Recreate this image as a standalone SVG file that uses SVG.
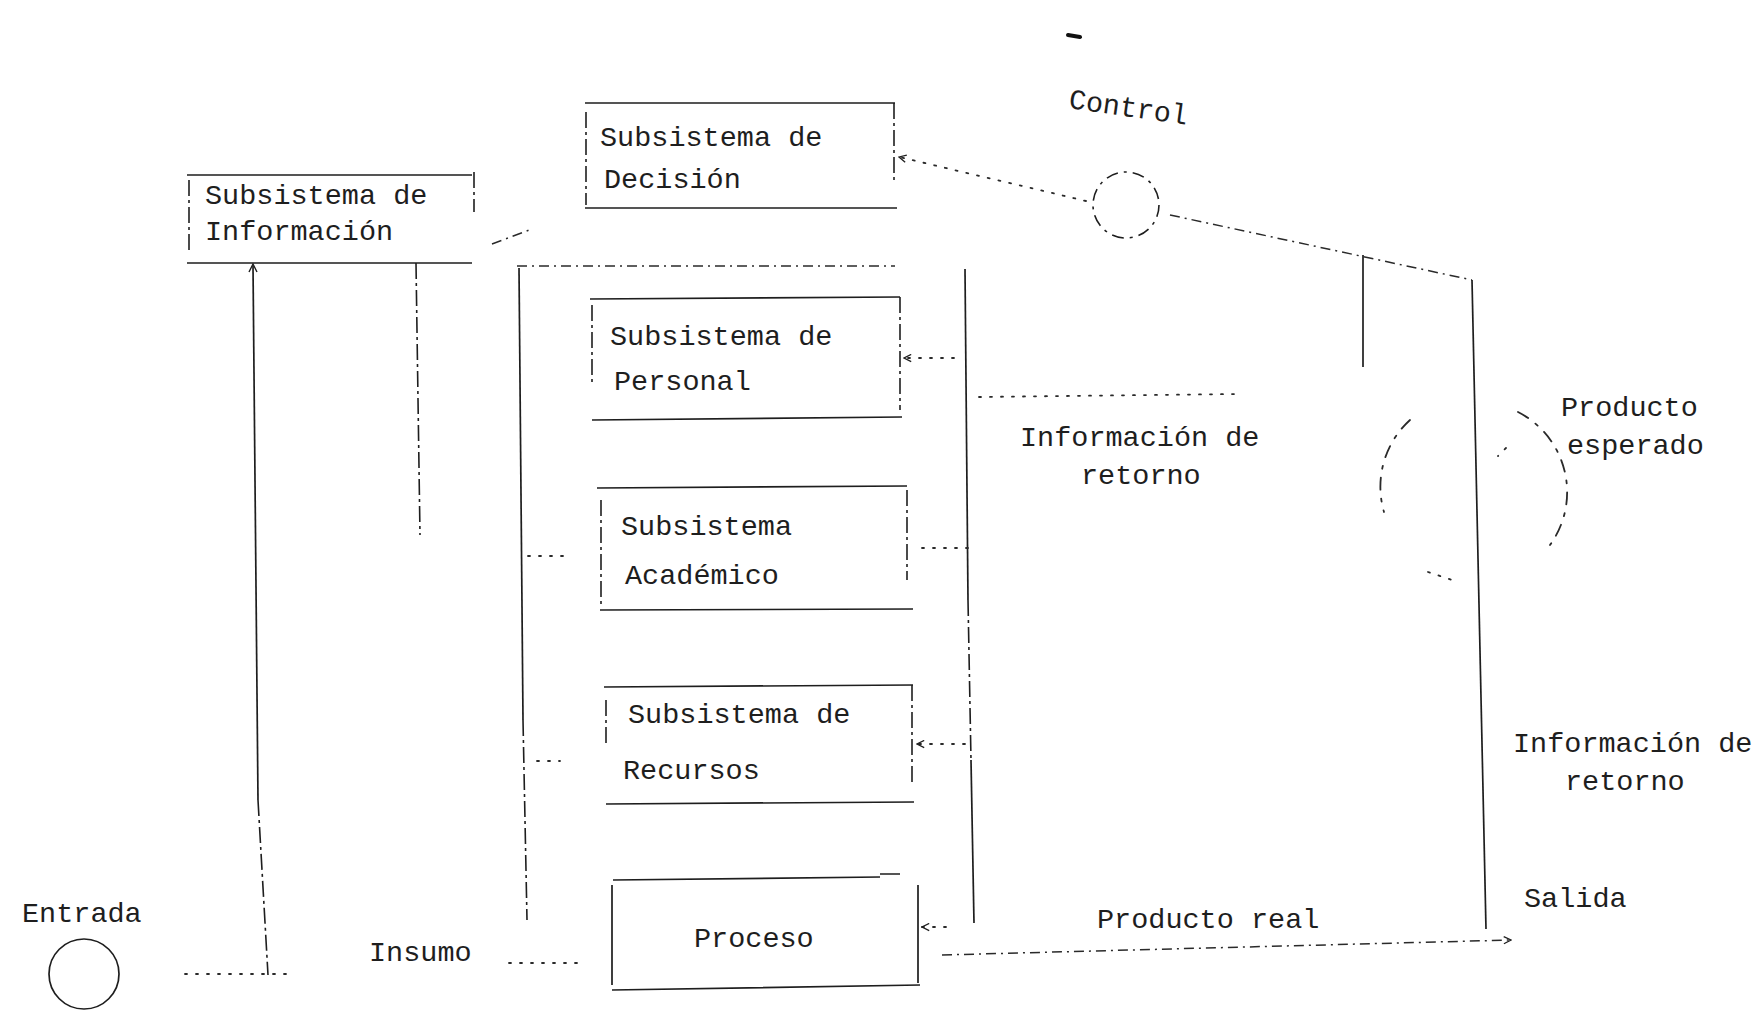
<svg xmlns="http://www.w3.org/2000/svg" width="1755" height="1021" viewBox="0 0 1755 1021">
<defs>
<style>
.t{font-family:"Liberation Mono","DejaVu Sans Mono",monospace;font-size:28.5px;fill:#1e1e1e}
.s{stroke:#1e1e1e;stroke-width:1.7;fill:none}
.d{stroke:#1e1e1e;stroke-width:1.6;fill:none;stroke-dasharray:16 4 3 4}
.o{stroke:#2a2a2a;stroke-width:1.8;fill:none;stroke-dasharray:2 9;stroke-linecap:round}
.k{stroke:#2a2a2a;stroke-width:1.5;fill:none;stroke-dasharray:10 5 2 5}
</style>
<marker id="ah" viewBox="0 0 10 10" refX="9" refY="5" markerWidth="9" markerHeight="9" orient="auto-start-reverse" markerUnits="userSpaceOnUse">
<path d="M1,1 L9,5 L1,9" fill="none" stroke="#1e1e1e" stroke-width="1.4"/>
</marker>
</defs>
<rect width="1755" height="1021" fill="#ffffff"/>

<g id="connectors">
<path class="o" d="M185,974 L291,974"/>
<path class="s" d="M253,266 L258,800"/>
<path class="d" d="M258,800 L268,975"/>
<path d="M249,272 L253,264 L257,272" fill="none" stroke="#1e1e1e" stroke-width="1.4"/>
<path class="d" d="M416,263 L420,535"/>
<path class="k" d="M492,244 L532,229"/>
<path class="s" d="M519,268 L523,720"/>
<path class="d" d="M523,720 L527,920"/>
<path class="k" d="M517,266 L895,266"/>
<path class="o" d="M528,556 L572,556"/>
<path class="o" d="M537,761 L560,761"/>
<path class="o" d="M509,963 L582,963"/>
<path class="s" d="M965,269 L968,600"/>
<path class="d" d="M968,600 L971,760"/>
<path class="s" d="M971,760 L974,923"/>
<path class="o" d="M954,358 L904,358" marker-end="url(#ah)"/>
<path class="o" d="M968,548 L914,548"/>
<path class="o" d="M965,744 L917,744" marker-end="url(#ah)"/>
<path class="o" d="M946,927 L922,927" marker-end="url(#ah)"/>
<path class="o" d="M979,397 L1237,394"/>
<path class="o" d="M1086,201 L899,157" marker-end="url(#ah)"/>
<path class="k" d="M1170,215 L1472,280"/>
<path class="s" d="M1363,255 L1363,367"/>
<path class="s" d="M1472,280 L1486,929"/>
<path class="k" d="M942,955 L1511,940" marker-end="url(#ah)"/>
</g>

<g id="n-info">
<path class="s" d="M187,175 L472,175 M187,263 L472,263"/>
<path class="d" d="M189,180 L189,250 M474,172 L474,212"/>
<text class="t" x="205" y="204">Subsistema de</text>
<text class="t" x="205" y="240">Información</text>
</g>

<g id="n-decision">
<path class="s" d="M585,103 L895,103 M585,208 L897,208"/>
<path class="d" d="M586,112 L586,205 M894,103 L894,180"/>
<text class="t" x="600" y="146">Subsistema de</text>
<text class="t" x="604" y="188">Decisión</text>
</g>

<g id="n-personal">
<path class="s" d="M590,299 L900,297 M592,420 L902,417"/>
<path class="d" d="M592,305 L592,385 M900,297 L900,410"/>
<text class="t" x="610" y="345">Subsistema de</text>
<text class="t" x="614" y="390">Personal</text>
</g>

<g id="n-academico">
<path class="s" d="M597,488 L907,486 M600,610 L913,609"/>
<path class="d" d="M601,500 L601,605 M907,490 L907,580"/>
<text class="t" x="621" y="535">Subsistema</text>
<text class="t" x="625" y="584">Académico</text>
</g>

<g id="n-recursos">
<path class="s" d="M604,687 L913,685 M606,804 L914,802"/>
<path class="d" d="M606,700 L606,745 M912,685 L912,785"/>
<text class="t" x="628" y="723">Subsistema de</text>
<text class="t" x="623" y="779">Recursos</text>
</g>

<g id="n-proceso">
<path class="s" d="M613,880 L880,877 M880,874 L900,874 M612,990 L920,985"/>
<path class="s" d="M612,885 L612,985 M918,885 L918,983"/>
<text class="t" x="694" y="947">Proceso</text>
</g>

<g id="n-control">
<circle cx="1126" cy="205" r="33" class="d" style="stroke-dasharray:12 6 3 6"/>
<text class="t" x="1068" y="108" transform="rotate(8 1068 108)">Control</text>
</g>

<g id="n-esperado">
<path class="o" style="stroke-dasharray:12 9 3 9" d="M1410,420 A90,90 0 0 0 1384,512"/>
<path class="o" style="stroke-dasharray:12 9 3 9" d="M1518,412 A90,90 0 0 1 1550,545"/>
<path class="o" d="M1428,572 L1452,580"/>
<path class="o" d="M1506,448 L1498,456"/>
<text class="t" x="1561" y="416">Producto</text>
<text class="t" x="1567" y="454">esperado</text>
</g>

<g id="n-entrada">
<circle cx="84" cy="974" r="35" class="s"/>
<text class="t" x="22" y="922">Entrada</text>
</g>

<g id="labels">
<path d="M1068,35 L1080,37" stroke="#111" stroke-width="4" stroke-linecap="round"/>
<text class="t" x="369" y="961">Insumo</text>
<text class="t" x="1020" y="446">Información de</text>
<text class="t" x="1081" y="484">retorno</text>
<text class="t" x="1513" y="752">Información de</text>
<text class="t" x="1565" y="790">retorno</text>
<text class="t" x="1524" y="907">Salida</text>
<text class="t" x="1097" y="928">Producto real</text>
</g>
</svg>
